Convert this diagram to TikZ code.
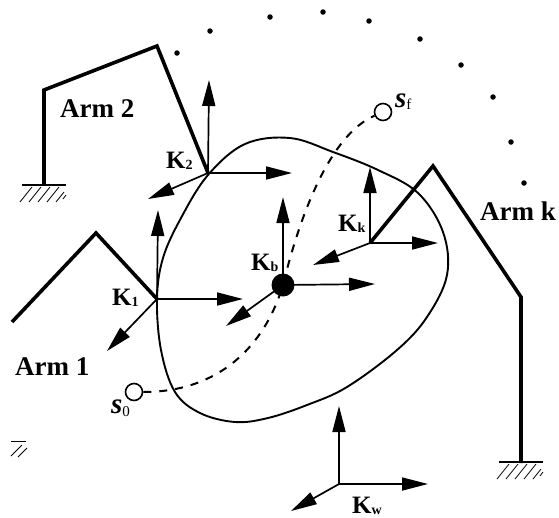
\documentclass[tikz,border=0pt]{standalone}
\usepackage{fontspec}
\setmainfont{Liberation Serif}
\usetikzlibrary{arrows.meta}
\newcommand{\framelabel}[2]{\textbf{#1}\raisebox{-1.5pt}{\fontsize{14}{14}\selectfont\textbf{#2}}}
\tikzset{
  armline/.style={line width=3.6pt,line join=miter},
  framearrow/.style={line width=1.7pt,-{Triangle[length=26pt,width=13pt]}},
  groundline/.style={line width=1.6pt},
  hatchline/.style={line width=0.8pt},
  armlabel/.style={anchor=base west,inner sep=0pt,font=\fontsize{27}{27}\selectfont\bfseries},
  framelabelnode/.style={anchor=base west,inner sep=0pt,font=\fontsize{25}{25}\selectfont},
  statelabel/.style={anchor=base west,inner sep=0pt,font=\fontsize{29}{29}\selectfont},
  statepoint/.style={circle,draw,line width=1.6pt,fill=white,inner sep=0pt,minimum size=17pt},
  pathdot/.style={circle,fill=black,inner sep=0pt,minimum size=5.5pt},
}
\begin{document}
\begin{tikzpicture}[x=1pt,y=-1pt]
  \useasboundingbox (0,0) rectangle (559,517);
  % frame origins and arrow tips
  \coordinate (k1) at (157,299); \coordinate (k1x) at (243,299); \coordinate (k1y) at (158,210); \coordinate (k1z) at (107,351);
  \coordinate (k2) at (208,173); \coordinate (k2x) at (292,173); \coordinate (k2y) at (209,80); \coordinate (k2z) at (148,199);
  \coordinate (kk) at (370,243); \coordinate (kkx) at (438,243); \coordinate (kky) at (370,167); \coordinate (kkz) at (313,265);
  \coordinate (kw) at (339,484); \coordinate (kwx) at (428,484); \coordinate (kwy) at (339,406); \coordinate (kwz) at (291,511);
  \coordinate (kb) at (283,285); \coordinate (kbx) at (375,284); \coordinate (kby) at (283,197); \coordinate (kbz) at (226,326);
  % object outline
  \draw[line width=1.9pt] plot[smooth cycle,tension=0.6] coordinates {(157,299) (163,258) (181,218) (208,175) (245,144) (290,138) (333,152) (378,170) (418,193) (443,232) (447,275) (427,317) (397,350) (347,387) (307,405) (268,418) (235,422) (200,413) (175,392) (161,350)};
  % arms
  \draw[armline] (44,185) -- (44,90) -- (157,46) -- (k2);
  \draw[armline] (12,322) -- (96,233) -- (k1);
  \draw[armline] (kk) -- (433,166) -- (521,297) -- (521,463);
  % ground marks
  \foreach \gx/\gy in {44/185,521/462} {
    \draw[groundline] (\gx-22,\gy) -- (\gx+22,\gy);
    \foreach \i in {0,9,18,27} \draw[hatchline] (\gx-24+\i,\gy+17) -- (\gx-12+\i,\gy+2);
    \draw[hatchline] (\gx+12,\gy+17) -- (\gx+20,\gy+7);
    \draw[hatchline] (\gx+19,\gy+14) -- (\gx+22,\gy+10);
  }
  \draw[hatchline] (11,441) -- (26,441);
  \draw[hatchline] (11,456) -- (22,445);
  \draw[hatchline] (18,457) -- (27,448);
  % state path
  \node[statepoint] (s0) at (134,392) {};
  \node[statepoint] (sf) at (383,112) {};
  \draw[line width=2pt,dash pattern=on 8pt off 8pt] (s0) .. controls (220,392) and (265,345) .. (kb) .. controls (300,215) and (330,135) .. (sf);
  % frames
  \foreach \o in {k1,k2,kk,kw,kb}
    \foreach \d in {x,y,z}
      \draw[framearrow] (\o) -- (\o\d);
  \node[circle,fill=black,inner sep=0pt,minimum size=23pt] (kbdot) at (kb) {};
  % via points
  \foreach \n/\x/\y in {a/177/53,b/210/31,c/270/17,d/323/12,e/369/21,f/420/39,g/461/65,h/493/97,i/511/142,j/524/183}
    \node[pathdot] (dot\n) at (\x,\y) {};
  % labels
  \node[armlabel] (arm2) at (60,117) {Arm 2};
  \node[armlabel] (arm1) at (15,375) {Arm 1};
  \node[armlabel] (armk) at (480,220) {Arm k};
  \node[framelabelnode] (k1lab) at (112,305) {\framelabel{K}{1}};
  \node[framelabelnode] (k2lab) at (166,168) {\framelabel{K}{2}};
  \node[framelabelnode] (kblab) at (251,270) {\framelabel{K}{b}};
  \node[framelabelnode] (kklab) at (338,231) {\framelabel{K}{k}};
  \node[framelabelnode] (kwlab) at (352,513) {\framelabel{K}{w}};
  \node[statelabel] (s0lab) at (111,413) {\textbf{\textit{s}}\raisebox{-3pt}{\fontsize{15}{15}\selectfont 0}};
  \node[statelabel] (sflab) at (395,107) {\textbf{\textit{s}}\raisebox{-2pt}{\fontsize{15}{15}\selectfont f}};
\end{tikzpicture}
\end{document}
